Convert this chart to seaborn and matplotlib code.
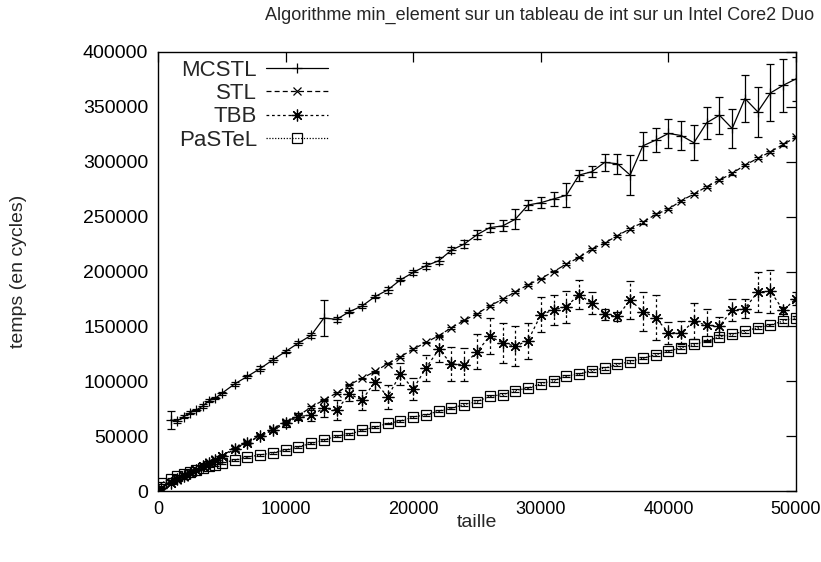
import numpy as np
import pandas as pd
import matplotlib
matplotlib.use("Agg")
import matplotlib.pyplot as plt
import seaborn as sns
from matplotlib.lines import Line2D

# ── Data ──────────────────────────────────────────────────────────────────────
TITLE = "Algorithme min_element sur un tableau de int sur un Intel Core2 Duo"

taille = [200, 1000, 1500, 2000, 2500, 3000, 3500, 4000, 4500, 5000,
          6000, 7000, 8000, 9000, 10000, 11000, 12000, 13000, 14000, 15000,
          16000, 17000, 18000, 19000, 20000, 21000, 22000, 23000, 24000, 25000,
          26000, 27000, 28000, 29000, 30000, 31000, 32000, 33000, 34000, 35000,
          36000, 37000, 38000, 39000, 40000, 41000, 42000, 43000, 44000, 45000,
          46000, 47000, 48000, 49000, 50000]
taille_mcstl = taille[1:]

mcstl = [64700, 63800, 67700, 71300, 73800, 77400, 82200, 84700, 89000,
         97500, 104400, 111500, 119500, 127100, 134800, 141800, 157600, 156400, 163400,
         168600, 177100, 183200, 192400, 199100, 205200, 209800, 219500, 225000, 233500,
         240000, 241500, 247600, 260600, 262700, 266100, 269400, 287900, 290900, 299400,
         298200, 287900, 314500, 319700, 325800, 323900, 317300, 335500, 342400, 330300,
         357600, 345500, 362700, 369700, 375500]
mcstl_err = [8500, 1500, 1200, 1500, 1200, 1500, 1500, 1200, 1500,
             1500, 1500, 2000, 2000, 1500, 2000, 2000, 16700, 2000, 1500,
             2000, 1500, 3000, 1500, 2000, 3000, 3000, 2500, 3500, 4000,
             4000, 5000, 9000, 5000, 5000, 6500, 11000, 5000, 5000, 8000,
             9000, 18500, 13000, 11000, 13000, 13000, 16000, 14500, 17000, 18000,
             21000, 23000, 26000, 24000, 20000]

stl = [2000, 7000, 10000, 13000, 16500, 19500, 22500, 26000, 29000, 32000,
       38900, 44500, 50500, 56500, 63000, 68500, 76500, 82900, 89300, 96800,
       102800, 108900, 116000, 122300, 129300, 135400, 141500, 148800, 155500, 161600,
       168600, 174700, 181400, 187800, 193600, 200000, 206700, 212800, 220400, 225900,
       232600, 239000, 244700, 252100, 256700, 264500, 270600, 277300, 283300, 289400,
       297000, 303000, 309100, 315800, 322500]
stl_err = [300, 400, 300, 500, 400, 300, 500, 400, 500, 400,
           500, 600, 500, 600, 500, 700, 600, 500, 700, 600,
           600, 700, 600, 700, 800, 600, 700, 800, 700, 800,
           700, 800, 900, 700, 800, 900, 800, 700, 900, 800,
           900, 800, 1000, 900, 800, 1000, 900, 1000, 900, 1100,
           1000, 900, 1100, 1000, 1200]

tbb = [2500, 7500, 10500, 13500, 16000, 19000, 23000, 25500, 28500, 31500,
       38000, 44000, 50000, 55500, 61600, 67700, 69200, 75300, 73800, 88300,
       82900, 99600, 85900, 106600, 93000, 112000, 129000, 116000, 115000, 127000,
       141000, 135000, 132000, 137000, 160500, 165000, 168000, 179000, 171000, 161000,
       159000, 174000, 163500, 158000, 144200, 144200, 154600, 151000, 150200, 164600,
       166200, 181400, 182000, 164600, 175300]
tbb_err = [800, 700, 900, 800, 1000, 900, 1200, 1000, 1100, 1200,
           1500, 1500, 2000, 2000, 3000, 3000, 5000, 8000, 9000, 6000,
           9000, 8000, 11000, 10000, 10000, 12000, 11400, 15500, 15000, 15700,
           16300, 18300, 18300, 16500, 16000, 13700, 14500, 13400, 10000, 5000,
           4000, 17200, 17800, 20600, 10200, 10700, 16300, 14500, 8000, 10000,
           9000, 18600, 19400, 3000, 6000]

pastel = [7000, 11000, 13500, 15500, 17500, 19500, 21000, 22500, 24000, 25500,
          28200, 31000, 32800, 34900, 37300, 40300, 43400, 46400, 50100, 51600,
          55600, 58000, 61600, 63800, 67400, 69500, 72800, 75500, 78800, 81500,
          86300, 87800, 91500, 93800, 97800, 100500, 104800, 106700, 109700, 112000,
          115300, 117900, 121100, 124000, 127400, 130500, 133500, 136600, 140500, 142700,
          145700, 148800, 151200, 154900, 157900]
pastel_err = [900, 700, 800, 600, 700, 800, 700, 900, 800, 700,
              800, 900, 700, 800, 900, 800, 1000, 900, 800, 1000,
              900, 1000, 800, 900, 1100, 1000, 900, 1200, 1000, 1100,
              1000, 1200, 1100, 1000, 1200, 1100, 1300, 1200, 1100, 1300,
              1200, 1300, 1100, 1400, 1200, 1300, 1400, 1200, 1500, 1300,
              1400, 1500, 1300, 1600, 1500]

x_ticks = [0, 10000, 20000, 30000, 40000, 50000]
y_ticks = [0, 50000, 100000, 150000, 200000, 250000, 300000, 350000, 400000]

# ── Style per series (gnuplot-like, all black) ────────────────────────────────
LW = 0.9
series = [
    ("MCSTL",  taille_mcstl, mcstl,  mcstl_err,  "+",        7,   None),
    ("STL",    taille,       stl,    stl_err,    "x",        6,   (4, 2.5)),
    ("TBB",    taille,       tbb,    tbb_err,    (8, 2, 0),  8.5, (2.2, 2.2)),
    ("PaSTeL", taille,       pastel, pastel_err, "s",        6.5, (1, 1.3)),
]

sns.set_style("white")
plt.rcParams["font.family"] = ["Liberation Sans", "DejaVu Sans"]

fig = plt.figure(figsize=(8.21, 5.62), dpi=100)
ax = fig.add_axes([158 / 821, 1 - 491 / 562, (796 - 158) / 821, (491 - 52) / 562])

handles = []
for name, xs, ys, err, mk, ms, dash in series:
    df = pd.DataFrame({"taille": xs, "temps": ys})
    sns.lineplot(data=df, x="taille", y="temps", ax=ax, color="k", lw=LW,
                 marker=mk, ms=ms, mec="k", mfc="none", mew=LW,
                 errorbar=None, legend=False)
    line = ax.lines[-1]
    ls = "-" if dash is None else (0, dash)
    line.set_linestyle(ls)

    _, _, bars = ax.errorbar(xs, ys, yerr=err, fmt="none", ecolor="k",
                             elinewidth=LW, capsize=3, capthick=LW)
    bars[0].set_linestyle(ls)

    handles.append(Line2D([], [], color="k", lw=LW, ls=ls, marker=mk, ms=ms,
                          mec="k", mfc="none", mew=LW))

# ── Axes cosmetics ────────────────────────────────────────────────────────────
ax.set_xlim(0, 50000)
ax.set_ylim(0, 400000)
ax.set_xticks(x_ticks)
ax.set_yticks(y_ticks)
ax.set_xticklabels([str(t) for t in x_ticks])
ax.set_yticklabels([str(t) for t in y_ticks])
ax.tick_params(direction="in", length=7, width=LW, top=True, right=True,
               pad=7, colors="k")
ax.tick_params(axis="x", labelsize=13)
ax.tick_params(axis="y", labelsize=14)
for sp in ax.spines.values():
    sp.set_linewidth(1.0)
    sp.set_color("k")

ax.set_xlabel("taille", fontsize=14)
ax.set_ylabel("temps (en cycles)", fontsize=14)
ax.xaxis.set_label_coords(0.5, -0.052)
ax.yaxis.set_label_coords(-0.205, 0.5)

fig.text(540 / 821, 1 - 15 / 562, TITLE, ha="center", va="center", fontsize=13)

ax.legend(handles, [s[0] for s in series], loc="upper right",
          bbox_to_anchor=((328 - 158) / 638, (491 - 60) / 439),
          markerfirst=False, frameon=False, fontsize=16,
          handlelength=2.8, handletextpad=0.4, labelspacing=0.1,
          numpoints=1, borderaxespad=0, borderpad=0)

fig.savefig("out.png", dpi=100)
